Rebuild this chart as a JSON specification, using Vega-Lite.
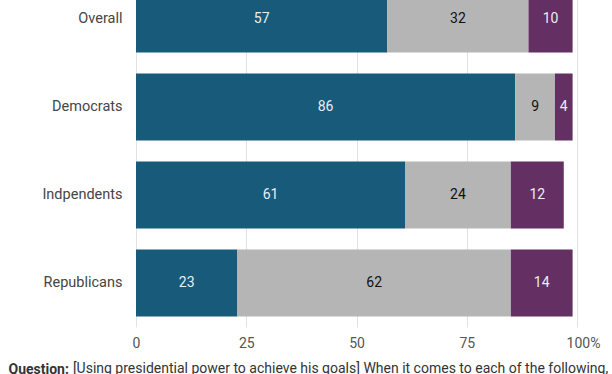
{
  "$schema": "https://vega.github.io/schema/vega-lite/v6.json",
  "width": 441,
  "height": 352,
  "autosize": {"type": "none"},
  "padding": {"left": 136, "top": -25, "right": 35, "bottom": 60},
  "background": "white",
  "config": {"font": "Roboto", "view": {"stroke": null}},
  "data": {"values": [
    {"group": "Overall", "response": "Approve", "order": 1, "value": 57},
    {"group": "Overall", "response": "Not sure", "order": 2, "value": 32},
    {"group": "Overall", "response": "Disapprove", "order": 3, "value": 10},
    {"group": "Democrats", "response": "Approve", "order": 1, "value": 86},
    {"group": "Democrats", "response": "Not sure", "order": 2, "value": 9},
    {"group": "Democrats", "response": "Disapprove", "order": 3, "value": 4},
    {"group": "Indpendents", "response": "Approve", "order": 1, "value": 61},
    {"group": "Indpendents", "response": "Not sure", "order": 2, "value": 24},
    {"group": "Indpendents", "response": "Disapprove", "order": 3, "value": 12},
    {"group": "Republicans", "response": "Approve", "order": 1, "value": 23},
    {"group": "Republicans", "response": "Not sure", "order": 2, "value": 62},
    {"group": "Republicans", "response": "Disapprove", "order": 3, "value": 14}
  ]},
  "transform": [
    {"stack": "value", "groupby": ["group"], "sort": [{"field": "order", "order": "ascending"}], "as": ["v0", "v1"]},
    {"calculate": "(datum.v0 + datum.v1) / 2", "as": "mid"}
  ],
  "title": {
    "text": "[Using presidential power to achieve his goals] When it comes to each of the following,",
    "orient": "bottom",
    "anchor": "start",
    "frame": "group",
    "fontSize": 14,
    "fontWeight": "normal",
    "color": "#333333",
    "baseline": "alphabetic",
    "offset": 0,
    "dx": -63,
    "dy": -3
  },
  "encoding": {
    "y": {
      "field": "group",
      "type": "nominal",
      "sort": ["Overall", "Democrats", "Indpendents", "Republicans"],
      "scale": {"paddingInner": 0.24, "paddingOuter": 0.12},
      "axis": {
        "title": null,
        "domain": false,
        "ticks": false,
        "labelFontSize": 14.5,
        "labelColor": "#454545",
        "labelPadding": 14
      }
    }
  },
  "layer": [
    {
      "mark": {"type": "bar"},
      "encoding": {
        "x": {
          "field": "v0",
          "type": "quantitative",
          "scale": {"domain": [0, 100], "nice": false},
          "axis": {
            "values": [0, 25, 50, 75, 100],
            "labelExpr": "datum.value == 100 ? '100%' : datum.label",
            "labelFlush": false,
            "labelOffset": {"condition": {"test": "datum.value == 100", "value": 6}, "value": 0},
            "domain": false,
            "ticks": false,
            "grid": true,
            "gridColor": "#e2e2e2",
            "labelFontSize": 14,
            "labelColor": "#555555",
            "labelPadding": 9,
            "title": "Question:",
            "titleFontSize": 14,
            "titleFontWeight": "bold",
            "titleColor": "#333333",
            "titleAnchor": "start",
            "titleAlign": "left",
            "titleBaseline": "alphabetic",
            "titleX": -128,
            "titleY": 46
          }
        },
        "x2": {"field": "v1"},
        "color": {
          "field": "response",
          "type": "nominal",
          "scale": {"domain": ["Approve", "Not sure", "Disapprove"], "range": ["#175a7a", "#b5b5b5", "#642f63"]},
          "legend": null
        }
      }
    },
    {
      "mark": {"type": "text", "fontSize": 14, "align": "center", "baseline": "middle"},
      "encoding": {
        "x": {"field": "mid", "type": "quantitative"},
        "text": {"field": "value", "type": "quantitative"},
        "color": {
          "condition": {"test": "datum.response === 'Not sure'", "value": "#111111"},
          "value": "#e8eef2"
        }
      }
    }
  ]
}
